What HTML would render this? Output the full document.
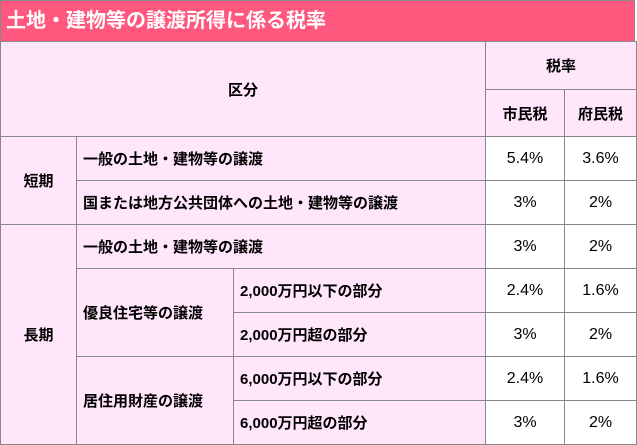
<!DOCTYPE html><html><head><meta charset="utf-8"><style>
body{margin:0;width:637px;height:445px;background:#fff;font-family:"Liberation Sans","Noto Sans CJK JP",sans-serif;position:relative;overflow:hidden}
.t{position:absolute;left:0;top:0;width:635px;height:41px;background:#ff577d;border:1px solid #888;border-bottom:none;color:#fff;font-weight:bold;font-size:20px;line-height:41px;padding-left:5px;box-sizing:border-box}
.c{position:absolute;box-sizing:border-box;border:1px solid #888;display:flex;align-items:center;font-size:15px;font-weight:bold;color:#000;background:#ffe6fb}
.v{background:#fff;font-weight:normal;font-size:16px;justify-content:center}
.m{justify-content:center}
.l{padding-left:6px}
</style></head><body>
<div class="t">土地・建物等の譲渡所得に係る税率</div>
<div class="c m" style="left:0;top:41px;width:486px;height:96px">区分</div>
<div class="c m" style="left:485px;top:41px;width:152px;height:49px">税率</div>
<div class="c m" style="left:485px;top:89px;width:80px;height:48px">市民税</div>
<div class="c m" style="left:564px;top:89px;width:73px;height:48px">府民税</div>
<div class="c m" style="left:0;top:136px;width:77px;height:89px">短期</div>
<div class="c l" style="left:76px;top:136px;width:410px;height:45px">一般の土地・建物等の譲渡</div>
<div class="c l" style="left:76px;top:180px;width:410px;height:45px">国または地方公共団体への土地・建物等の譲渡</div>
<div class="c m" style="left:0;top:224px;width:77px;height:221px">長期</div>
<div class="c l" style="left:76px;top:224px;width:410px;height:45px">一般の土地・建物等の譲渡</div>
<div class="c l" style="left:76px;top:268px;width:158px;height:89px">優良住宅等の譲渡</div>
<div class="c l" style="left:233px;top:268px;width:253px;height:45px">2,000万円以下の部分</div>
<div class="c l" style="left:233px;top:312px;width:253px;height:45px">2,000万円超の部分</div>
<div class="c l" style="left:76px;top:356px;width:158px;height:89px">居住用財産の譲渡</div>
<div class="c l" style="left:233px;top:356px;width:253px;height:45px">6,000万円以下の部分</div>
<div class="c l" style="left:233px;top:400px;width:253px;height:45px">6,000万円超の部分</div>
<div class="c v" style="left:485px;top:136px;width:80px;height:45px">5.4%</div>
<div class="c v" style="left:564px;top:136px;width:73px;height:45px">3.6%</div>
<div class="c v" style="left:485px;top:180px;width:80px;height:45px">3%</div>
<div class="c v" style="left:564px;top:180px;width:73px;height:45px">2%</div>
<div class="c v" style="left:485px;top:224px;width:80px;height:45px">3%</div>
<div class="c v" style="left:564px;top:224px;width:73px;height:45px">2%</div>
<div class="c v" style="left:485px;top:268px;width:80px;height:45px">2.4%</div>
<div class="c v" style="left:564px;top:268px;width:73px;height:45px">1.6%</div>
<div class="c v" style="left:485px;top:312px;width:80px;height:45px">3%</div>
<div class="c v" style="left:564px;top:312px;width:73px;height:45px">2%</div>
<div class="c v" style="left:485px;top:356px;width:80px;height:45px">2.4%</div>
<div class="c v" style="left:564px;top:356px;width:73px;height:45px">1.6%</div>
<div class="c v" style="left:485px;top:400px;width:80px;height:45px">3%</div>
<div class="c v" style="left:564px;top:400px;width:73px;height:45px">2%</div>
</body></html>
